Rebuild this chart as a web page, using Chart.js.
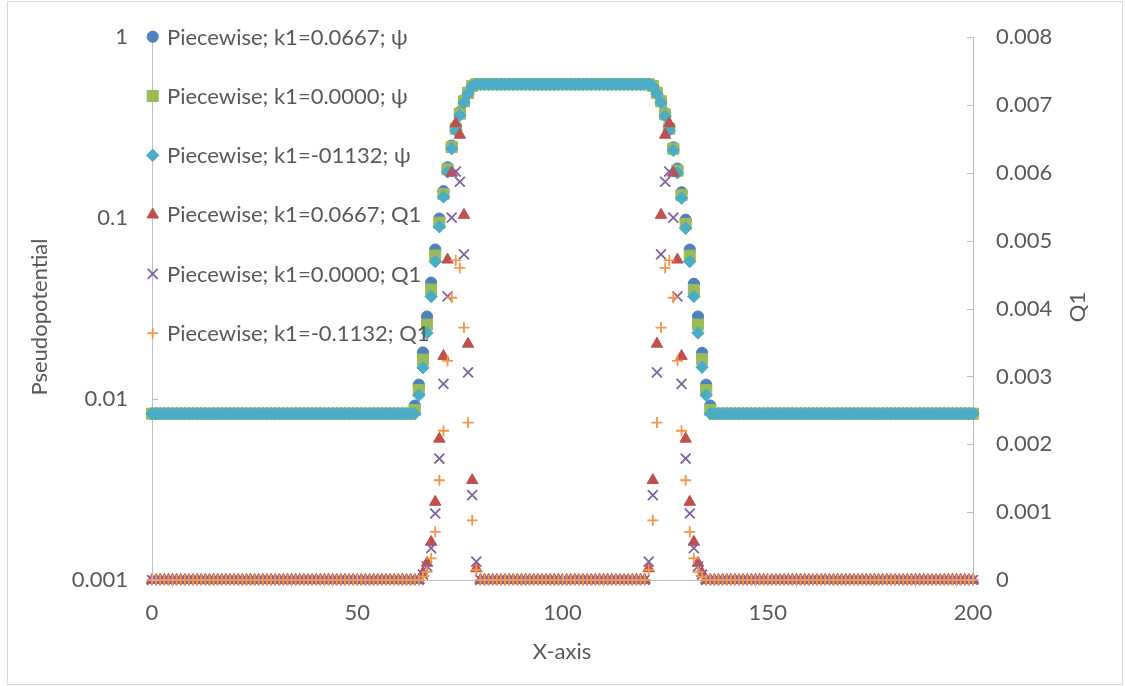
<!DOCTYPE html>
<html>
<head>
<meta charset="utf-8">
<script src="https://cdn.jsdelivr.net/npm/chart.js@4.4.1/dist/chart.umd.min.js"></script>
<style>
  html, body { margin: 0; padding: 0; background: #fff; }
  #wrap { width: 1125px; height: 686px; }
</style>
</head>
<body>
<div id="wrap"><canvas id="chart" width="1125" height="686"></canvas></div>
<script>
// x positions (step 1)
const xValues = [];
for (let i = 0; i <= 200; i++) xValues.push(i);

const seriesLabels = [
    'Piecewise; k1=0.0667; ψ',
    'Piecewise; k1=0.0000; ψ',
    'Piecewise; k1=-01132; ψ',
    'Piecewise; k1=0.0667; Q1',
    'Piecewise; k1=0.0000; Q1',
    'Piecewise; k1=-0.1132; Q1'
];

// tick values
const xTicks = [0, 50, 100, 150, 200];
const leftTicks = [0.001, 0.01, 0.1, 1];
const leftTickLabels = ['0.001', '0.01', '0.1', '1'];
const rightTicks = [0, 0.001, 0.002, 0.003, 0.004, 0.005, 0.006, 0.007, 0.008];
const rightTickLabels = ['0', '0.001', '0.002', '0.003', '0.004', '0.005', '0.006', '0.007', '0.008'];

// pseudopotential: flat level outside, plateau inside, read edges
const psiBase = 0.0083;
const psiPlateau = 0.55;
const psiLeftX = [64, 65, 66, 67, 68, 69, 70, 71, 72, 73, 74, 75, 76, 77, 78];
const psiRightX = [122, 123, 124, 125, 126, 127, 128, 129, 130, 131, 132, 133, 134, 135, 136];
const psiA_left = [0.0092, 0.0120, 0.0181, 0.0286, 0.0440, 0.0671, 0.0995, 0.141, 0.191, 0.252, 0.318, 0.385, 0.448, 0.496, 0.540];
const psiA_right = [0.540, 0.498, 0.448, 0.380, 0.318, 0.246, 0.188, 0.139, 0.098, 0.067, 0.0434, 0.0286, 0.0180, 0.0120, 0.0092];
const psiB_left = [0.0087, 0.0112, 0.0165, 0.0258, 0.0403, 0.0621, 0.0944, 0.136, 0.186, 0.247, 0.312, 0.378, 0.442, 0.492, 0.538];
const psiB_right = [0.538, 0.492, 0.442, 0.374, 0.312, 0.242, 0.183, 0.134, 0.093, 0.062, 0.0400, 0.0258, 0.0166, 0.0112, 0.0087];
const psiC_left = [0.0083, 0.0105, 0.0149, 0.0232, 0.0369, 0.0575, 0.0896, 0.131, 0.180, 0.242, 0.305, 0.370, 0.435, 0.487, 0.535];
const psiC_right = [0.535, 0.487, 0.435, 0.366, 0.305, 0.237, 0.178, 0.129, 0.088, 0.0575, 0.0369, 0.0232, 0.0150, 0.0105, 0.0083];

// Q1: zero except on the two edges
const q1Base = 0;
const q1LeftX = [66, 67, 68, 69, 70, 71, 72, 73, 74, 75, 76, 77, 78, 79];
const q1RightX = [121, 122, 123, 124, 125, 126, 127, 128, 129, 130, 131, 132, 133, 134];
const q1A_left = [0.0001, 0.00025, 0.00056, 0.00115, 0.00208, 0.0033, 0.00472, 0.0060, 0.00673, 0.00656, 0.00538, 0.00348, 0.00147, 0.00017];
const q1A_right = [0.00017, 0.00147, 0.00348, 0.00538, 0.00656, 0.00673, 0.0060, 0.00472, 0.0033, 0.00208, 0.00115, 0.00056, 0.00025, 0.0001];
const q1B_left = [0.00008, 0.0002, 0.00047, 0.00098, 0.00179, 0.00289, 0.00418, 0.00534, 0.00602, 0.00587, 0.0048, 0.00306, 0.00125, 0.00027];
const q1B_right = [0.00027, 0.00125, 0.00306, 0.0048, 0.00587, 0.00602, 0.00534, 0.00418, 0.00289, 0.00179, 0.00098, 0.00047, 0.0002, 0.00008];
const q1C_left = [0.00005, 0.00012, 0.00032, 0.00071, 0.00147, 0.0022, 0.00323, 0.00416, 0.00471, 0.0046, 0.00372, 0.00232, 0.00088, 0.00015];
const q1C_right = [0.00015, 0.00088, 0.00232, 0.00372, 0.0046, 0.00471, 0.00416, 0.00323, 0.0022, 0.00147, 0.00071, 0.00032, 0.00012, 0.00005];

function buildSeries(base, middle, leftX, leftVals, rightX, rightVals) {
    return xValues.map(x => {
        let i = leftX.indexOf(x);
        if (i >= 0) return { x: x, y: leftVals[i] };
        i = rightX.indexOf(x);
        if (i >= 0) return { x: x, y: rightVals[i] };
        const inside = x > leftX[leftX.length - 1] && x < rightX[0];
        return { x: x, y: inside ? middle : base };
    });
}

const textColor = '#595959';
const axisColor = '#BFBFBF';
const fontFamily = 'Lato, "Open Sans", "DejaVu Sans", sans-serif';
const fontSize = 22;

const styles = [
    { color: '#4F81BD', pointStyle: 'circle', radius: 5.6, width: 1, axis: 'y', order: 6 },
    { color: '#9BBB59', pointStyle: 'rect', radius: 7.8, width: 1, axis: 'y', order: 5 },
    { color: '#4BACC6', pointStyle: 'rectRot', radius: 6.2, width: 1, axis: 'y', order: 4 },
    { color: '#C0504D', pointStyle: 'triangle', radius: 6.6, width: 1, axis: 'y2', order: 3 },
    { color: '#8064A2', pointStyle: 'crossRot', radius: 7, width: 1.8, axis: 'y2', order: 2 },
    { color: '#F79646', pointStyle: 'cross', radius: 5.5, width: 1.8, axis: 'y2', order: 1 }
];

const seriesData = [
    buildSeries(psiBase, psiPlateau, psiLeftX, psiA_left, psiRightX, psiA_right),
    buildSeries(psiBase, psiPlateau, psiLeftX, psiB_left, psiRightX, psiB_right),
    buildSeries(psiBase, psiPlateau, psiLeftX, psiC_left, psiRightX, psiC_right),
    buildSeries(q1Base, q1Base, q1LeftX, q1A_left, q1RightX, q1A_right),
    buildSeries(q1Base, q1Base, q1LeftX, q1B_left, q1RightX, q1B_right),
    buildSeries(q1Base, q1Base, q1LeftX, q1C_left, q1RightX, q1C_right)
];

const datasets = seriesData.map((d, i) => ({
    label: seriesLabels[i],
    data: d,
    yAxisID: styles[i].axis,
    order: styles[i].order,
    pointStyle: styles[i].pointStyle,
    pointRadius: styles[i].radius,
    pointBackgroundColor: styles[i].color,
    pointBorderColor: styles[i].color,
    pointBorderWidth: styles[i].width,
    showLine: false,
    clip: false
}));

function font() {
    return fontSize + 'px ' + fontFamily;
}

const decor = {
    id: 'decor',
    beforeDraw(chart) {
        const ctx = chart.ctx;
        ctx.save();
        ctx.fillStyle = '#fff';
        ctx.fillRect(0, 0, chart.width, chart.height);
        ctx.strokeStyle = '#D9D9D9';
        ctx.lineWidth = 1;
        ctx.strokeRect(7.5, 1.5, 1115, 683);
        ctx.restore();
    },
    afterDraw(chart) {
        const ctx = chart.ctx;
        const area = chart.chartArea;
        const sx = chart.scales.x, sy = chart.scales.y, sy2 = chart.scales.y2;
        ctx.save();
        // inner tick marks
        ctx.strokeStyle = axisColor;
        ctx.lineWidth = 1;
        ctx.beginPath();
        leftTicks.forEach(v => {
            const y = Math.round(sy.getPixelForValue(v)) + 0.5;
            ctx.moveTo(area.left, y);
            ctx.lineTo(area.left + 6, y);
        });
        rightTicks.forEach(v => {
            const y = Math.round(sy2.getPixelForValue(v)) + 0.5;
            ctx.moveTo(area.right - 6, y);
            ctx.lineTo(area.right, y);
        });
        xTicks.forEach(v => {
            const x = Math.round(sx.getPixelForValue(v)) + 0.5;
            ctx.moveTo(x, area.bottom);
            ctx.lineTo(x, area.bottom - 6);
        });
        ctx.stroke();

        // legend inside the plot
        ctx.font = font();
        ctx.textAlign = 'left';
        ctx.textBaseline = 'alphabetic';
        seriesLabels.forEach((label, i) => {
            const st = styles[i];
            const cy = 36.7 + i * 59.3;
            ctx.fillStyle = st.color;
            ctx.strokeStyle = st.color;
            ctx.lineWidth = st.width;
            Chart.helpers.drawPoint(ctx, { pointStyle: st.pointStyle, radius: st.radius, rotation: 0, borderWidth: st.width }, area.left + 0.7, cy);
            ctx.fillStyle = textColor;
            ctx.fillText(label, 167, cy + 7.8);
        });

        // axis titles
        ctx.fillStyle = textColor;
        ctx.textAlign = 'center';
        ctx.textBaseline = 'middle';
        ctx.fillText('X-axis', 562, 652);
        ctx.save();
        ctx.translate(40, 317);
        ctx.rotate(-Math.PI / 2);
        ctx.fillText('Pseudopotential', 0, 0);
        ctx.restore();
        ctx.save();
        ctx.translate(1078, 307);
        ctx.rotate(-Math.PI / 2);
        ctx.fillText('Q1', 0, 0);
        ctx.restore();
        ctx.restore();
    }
};

const ctx = document.getElementById('chart').getContext('2d');
const chart = new Chart(ctx, {
    type: 'scatter',
    data: { datasets: datasets },
    options: {
        responsive: false,
        devicePixelRatio: 1,
        animation: false,
        events: [],
        layout: { padding: { left: 0, right: 0, top: 35, bottom: 0 } },
        scales: {
            x: {
                type: 'linear',
                min: 0,
                max: 200,
                afterBuildTicks: s => { s.ticks = xTicks.map(v => ({ value: v })); },
                afterFit: s => { s.height = 106; },
                grid: { display: false, drawTicks: false },
                border: { display: true, color: axisColor, width: 1 },
                ticks: {
                    autoSkip: false,
                    maxRotation: 0,
                    padding: 20,
                    color: textColor,
                    font: { family: fontFamily, size: fontSize },
                    callback: v => String(v)
                }
            },
            y: {
                type: 'logarithmic',
                position: 'left',
                min: 0.001,
                max: 1,
                afterBuildTicks: s => { s.ticks = leftTicks.map(v => ({ value: v })); },
                afterFit: s => { s.width = 152; },
                grid: { display: false, drawTicks: false },
                border: { display: true, color: axisColor, width: 1 },
                ticks: {
                    padding: 24,
                    color: textColor,
                    font: { family: fontFamily, size: fontSize },
                    callback: v => leftTickLabels[leftTicks.indexOf(v)]
                }
            },
            y2: {
                type: 'linear',
                position: 'right',
                min: 0,
                max: 0.008,
                afterBuildTicks: s => { s.ticks = rightTicks.map(v => ({ value: v })); },
                afterFit: s => { s.width = 152; },
                grid: { display: false, drawTicks: false },
                border: { display: true, color: axisColor, width: 1 },
                ticks: {
                    padding: 23,
                    color: textColor,
                    font: { family: fontFamily, size: fontSize },
                    callback: v => rightTickLabels[rightTicks.indexOf(v)]
                }
            }
        },
        plugins: {
            legend: { display: false },
            tooltip: { enabled: false }
        }
    },
    plugins: [decor]
});
</script>
</body>
</html>
